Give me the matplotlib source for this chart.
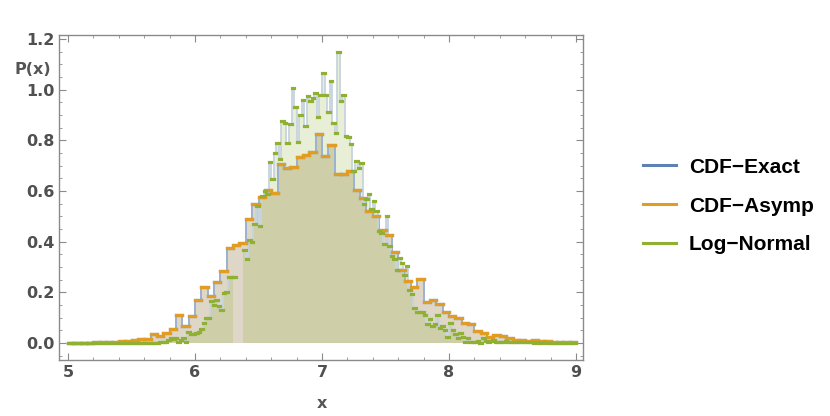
import numpy as np
import matplotlib
matplotlib.use("Agg")
import matplotlib.pyplot as plt
from matplotlib.lines import Line2D
from matplotlib.ticker import MultipleLocator, FormatStrFormatter
from matplotlib import font_manager

# bin width 0.05, left edges start at 5.00
asymp_start, asymp_width = 5.0, 0.05
cdf_asymp = [0.001, 0.001, 0.001, 0.001, 0.002, 0.003, 0.004, 0.004, 0.006, 0.008,
             0.012, 0.015, 0.015, 0.035, 0.028, 0.040, 0.055, 0.110, 0.067, 0.107,
             0.170, 0.220, 0.186, 0.240, 0.285, 0.375, 0.387, 0.395, 0.490, 0.550,
             0.577, 0.605, 0.593, 0.707, 0.690, 0.695, 0.735, 0.743, 0.755, 0.826,
             0.740, 0.780, 0.668, 0.668, 0.680, 0.605, 0.573, 0.522, 0.502, 0.447,
             0.427, 0.360, 0.290, 0.245, 0.220, 0.253, 0.162, 0.170, 0.154, 0.122,
             0.107, 0.099, 0.080, 0.075, 0.047, 0.040, 0.024, 0.032, 0.028, 0.020,
             0.012, 0.012, 0.008, 0.010, 0.006, 0.006, 0.005, 0.004, 0.004, 0.003]
# exact and asymptotic curves overlap at this scale
cdf_exact = list(cdf_asymp)

# bin width 0.02, left edges start at 5.00 (nan = no value drawn)
lognorm_start, lognorm_width = 5.0, 0.02
log_normal = [
    # 5.00 - 5.74
    0.001, 0.001, 0.001, 0.001, 0.001, 0.001, 0.001, 0.001, 0.001, 0.001,
    0.001, 0.001, 0.001, 0.001, 0.001, 0.001, 0.001, 0.001, 0.001, 0.001,
    0.001, 0.001, 0.001, 0.001, 0.001, 0.001, 0.001, 0.001, 0.001, 0.001,
    0.001, 0.001, 0.001, 0.001, 0.001, 0.001, 0.002, 0.002,
    # 5.76 - 6.30
    0.005, 0.010, 0.020, 0.017, 0.020, 0.005, 0.010, 0.020, 0.005, 0.043,
    0.035, 0.035, 0.040, 0.043, 0.055, 0.080, 0.100, 0.100, 0.166, 0.150,
    0.170, 0.145, 0.130, 0.196, 0.200, 0.260, 0.262, 0.262,
    # 6.32 - 6.36
    np.nan, np.nan, np.nan,
    # 6.38 - 8.38
    0.367, 0.330, 0.405, 0.400, 0.470, 0.540, 0.460, 0.580, 0.600, 0.590,
    0.715, 0.647, 0.750, 0.790, 0.725, 0.876, 0.870, 0.790, 0.865, 1.006,
    0.930, 0.795, 0.900, 0.960, 0.855, 0.976, 0.955, 0.967, 0.987, 0.894,
    0.980, 1.066, 0.980, 0.910, 1.036, 0.870, 0.830, 1.150, 0.955, 0.980,
    0.816, 0.815, 0.785, 0.677, 0.720, 0.690, 0.710, 0.550, 0.567, 0.590,
    0.530, 0.560, 0.523, 0.443, 0.433, 0.390, 0.500, 0.383, 0.344, 0.330,
    0.290, 0.335, 0.317, 0.267, 0.304, 0.210, 0.192, 0.137, 0.121, 0.121,
    0.121, 0.110, 0.075, 0.093, 0.068, 0.075, 0.110, 0.058, 0.068, 0.050,
    0.025, 0.080, 0.050, 0.034, 0.020, 0.038, 0.025, 0.005, 0.020, 0.005,
    0.005, 0.005, 0.008, 0.000, 0.020, 0.008, 0.005, 0.008, 0.012, 0.002,
    0.005,
    # 8.40 - 8.98
    0.004, 0.002, 0.006, 0.003, 0.002, 0.004, 0.002, 0.003, 0.002, 0.002,
    0.003, 0.002, 0.002, 0.001, 0.002, 0.001, 0.001, 0.002, 0.001, 0.001,
    0.001, 0.001, 0.001, 0.001, 0.001, 0.001, 0.001, 0.001, 0.001, 0.001]

series_names = ["CDF\u2212Exact", "CDF\u2212Asymp", "Log\u2212Normal"]
colors = ["#5E81B5", "#E19C24", "#8FB032"]

x_ticks = [5, 6, 7, 8, 9]
y_ticks = [0.0, 0.2, 0.4, 0.6, 0.8, 1.0, 1.2]

tick_font = "Liberation Sans Narrow"
try:
    font_manager.findfont(tick_font, fallback_to_default=False)
except Exception:
    tick_font = "DejaVu Sans"


def step_arrays(start, width, vals):
    vals = np.asarray(vals, dtype=float)
    left = start + width * np.arange(len(vals))
    return left, left + width, vals


fig = plt.figure(figsize=(8.3, 4.16), dpi=100)
ax = fig.add_axes([59 / 830, 1 - 360 / 416, 524 / 830, 325 / 416])

series = [
    step_arrays(asymp_start, asymp_width, cdf_exact),
    step_arrays(asymp_start, asymp_width, cdf_asymp),
    step_arrays(lognorm_start, lognorm_width, log_normal),
]

# fillings to the axis
for (left, right, v), c in zip(series, colors):
    xs = np.append(left, right[-1])
    ys = np.append(v, v[-1])
    ok = ~np.isnan(ys)
    ax.fill_between(xs, 0, np.nan_to_num(ys), where=ok, step="post",
                    color=c, alpha=0.2, linewidth=0, zorder=1)

# risers (thin, pale)
riser_cols = ["#9DB2CF", "#9DB2CF", "#C6D4DF"]
for (left, right, v), rc in zip(series, riser_cols):
    xs = np.append(left, right[-1])
    ys = np.append(v, v[-1])
    ax.step(xs, ys, where="post", color=rc, lw=1.3, zorder=2)

# flat tops
for (left, right, v), c in zip(series, colors):
    ok = ~np.isnan(v)
    ax.hlines(v[ok], left[ok], right[ok], colors=c, lw=2.3, zorder=3,
              capstyle="projecting")

ax.set_xlim(5 - 9 / 127, 9 + 7 / 127)
ax.set_ylim(-17 / 253.3, 1.2 + 4 / 253.3)
ax.set_xticks(x_ticks)
ax.set_yticks(y_ticks)
ax.xaxis.set_minor_locator(MultipleLocator(0.2))
ax.yaxis.set_minor_locator(MultipleLocator(0.05))
ax.yaxis.set_major_formatter(FormatStrFormatter("%.1f"))

frame_col = "#8a8a8a"
for s in ax.spines.values():
    s.set_color(frame_col)
    s.set_linewidth(1.0)
ax.tick_params(which="both", direction="in", top=True, right=True,
               color=frame_col, labelcolor="#505050", labelsize=11.5)
ax.tick_params(which="major", length=5, width=0.8)
ax.tick_params(which="minor", length=2.5, width=0.6)
for lab in ax.get_xticklabels() + ax.get_yticklabels():
    lab.set_fontfamily(tick_font)
    lab.set_fontweight("bold")

fig.text(33 / 830, 1 - 70 / 416, "P(x)", ha="center", va="center",
         fontsize=11.5, fontweight="bold", color="#555555", family=tick_font)
fig.text(322 / 830, 1 - 404 / 416, "x", ha="center", va="center",
         fontsize=11.5, fontweight="bold", color="#555555", family=tick_font)

handles = [Line2D([0], [0], color=c, lw=2.2) for c in colors]
leg = fig.legend(handles, series_names, loc="center left",
                 bbox_to_anchor=(643 / 830, 1 - 206 / 416), frameon=False,
                 borderpad=0, handlelength=1.6, handletextpad=0.6,
                 labelspacing=0.95, borderaxespad=0,
                 prop={"family": "Liberation Sans", "weight": "bold", "size": 15})

fig.savefig("out.png", dpi=100)
